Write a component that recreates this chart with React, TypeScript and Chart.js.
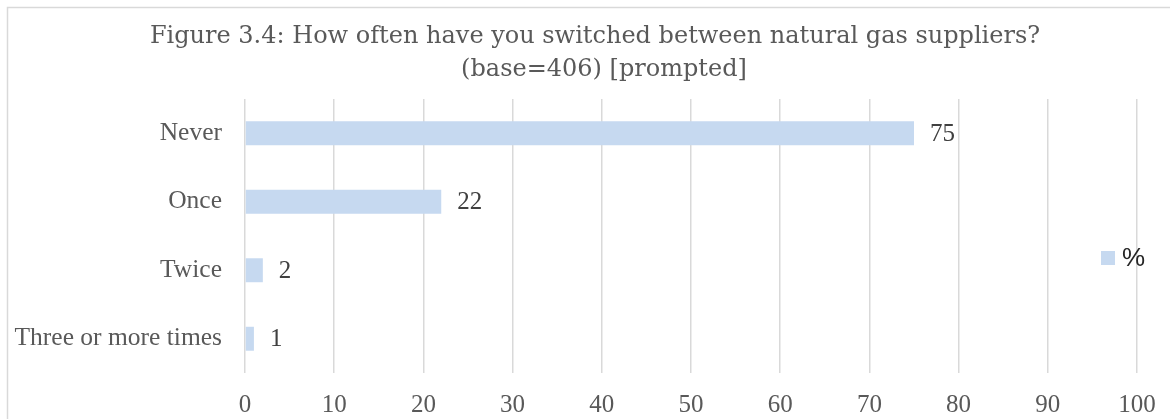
import React, { useEffect, useRef } from "react";
import { Chart, registerables } from "chart.js";

Chart.register(...registerables);

// Survey answers and their share of respondents (%)
const categories: string[] = ["Never", "Once", "Twice", "Three or more times"];
const percentValues: number[] = [75, 22, 2, 1];
const seriesName = "%";
const titleLines: string[] = [
  "Figure 3.4: How often have you switched between natural gas suppliers?",
  "(base=406) [prompted]",
];

const AXIS_FONT = "'Liberation Serif', 'Times New Roman', serif";
const TITLE_FONT = "'DejaVu Serif', serif";
const BAR_COLOR = "#c6d9f0";
const GRID_COLOR = "#d9d9d9";
const TEXT_COLOR = "#595959";

const framePlugin = {
  id: "frame",
  beforeDraw(chart: any) {
    const { ctx, width, height } = chart;
    ctx.save();
    ctx.fillStyle = "#ffffff";
    ctx.fillRect(0, 0, width, height);
    ctx.strokeStyle = GRID_COLOR;
    ctx.lineWidth = 1.5;
    ctx.beginPath();
    ctx.moveTo(7.5, height + 5);
    ctx.lineTo(7.5, 7.5);
    ctx.lineTo(width + 5, 7.5);
    ctx.stroke();
    ctx.restore();
  },
};

const titlePlugin = {
  id: "twoLineTitle",
  afterDraw(chart: any) {
    const { ctx } = chart;
    ctx.save();
    ctx.fillStyle = TEXT_COLOR;
    ctx.font = `24px ${TITLE_FONT}`;
    ctx.textAlign = "center";
    ctx.textBaseline = "alphabetic";
    ctx.fillText(titleLines[0], 595, 42.5);
    ctx.fillText(titleLines[1], 604, 76);
    ctx.restore();
  },
};

const valueLabelPlugin = {
  id: "valueLabels",
  afterDatasetsDraw(chart: any) {
    const { ctx } = chart;
    const meta = chart.getDatasetMeta(0);
    ctx.save();
    ctx.fillStyle = "#404040";
    ctx.font = `25px ${AXIS_FONT}`;
    ctx.textAlign = "left";
    ctx.textBaseline = "middle";
    meta.data.forEach((bar: any, i: number) => {
      ctx.fillText(String(percentValues[i]), bar.x + 16, bar.y + 1);
    });
    ctx.restore();
  },
};

const keyPlugin = {
  id: "seriesKey",
  afterDraw(chart: any) {
    const { ctx } = chart;
    ctx.save();
    ctx.fillStyle = BAR_COLOR;
    ctx.fillRect(1101, 251, 14, 14);
    ctx.fillStyle = "#262626";
    ctx.font = `26px 'Liberation Sans', Arial, sans-serif`;
    ctx.textAlign = "left";
    ctx.textBaseline = "middle";
    ctx.fillText(seriesName, 1122, 259);
    ctx.restore();
  },
};

export default function App() {
  const canvasRef = useRef<HTMLCanvasElement | null>(null);

  useEffect(() => {
    if (!canvasRef.current) return;
    const chart = new Chart(canvasRef.current, {
      type: "bar",
      data: {
        labels: categories,
        datasets: [
          {
            label: seriesName,
            data: percentValues,
            backgroundColor: BAR_COLOR,
            borderWidth: 0,
            barPercentage: 0.35,
            categoryPercentage: 1,
          },
        ],
      },
      options: {
        indexAxis: "y",
        responsive: false,
        animation: false,
        devicePixelRatio: 1,
        layout: { padding: { top: 99, left: 0, right: 33, bottom: 0 } },
        plugins: {
          legend: { display: false },
          title: { display: false },
          tooltip: { enabled: false },
        },
        scales: {
          x: {
            min: 0,
            max: 100,
            ticks: {
              stepSize: 10,
              color: TEXT_COLOR,
              font: { family: AXIS_FONT, size: 25 },
              padding: 17,
            },
            grid: { color: GRID_COLOR, lineWidth: 1.5, drawTicks: false },
            border: { display: false },
            afterFit(scale: any) {
              scale.height = 46;
              scale.paddingLeft = 0;
              scale.paddingRight = 0;
            },
          },
          y: {
            ticks: {
              color: TEXT_COLOR,
              font: { family: AXIS_FONT, size: 25.5 },
              padding: 23,
            },
            grid: { display: false, drawTicks: false },
            border: { display: false },
            afterFit(scale: any) {
              scale.width = 245;
              scale.paddingTop = 0;
              scale.paddingBottom = 0;
            },
          },
        },
      },
      plugins: [framePlugin, titlePlugin, valueLabelPlugin, keyPlugin],
    });
    return () => chart.destroy();
  }, []);

  return (
    <div style={{ position: "fixed", left: 0, top: 0, width: 1170, height: 419, background: "#fff" }}>
      <canvas ref={canvasRef} width={1170} height={419} style={{ display: "block", width: 1170, height: 419 }} />
    </div>
  );
}
